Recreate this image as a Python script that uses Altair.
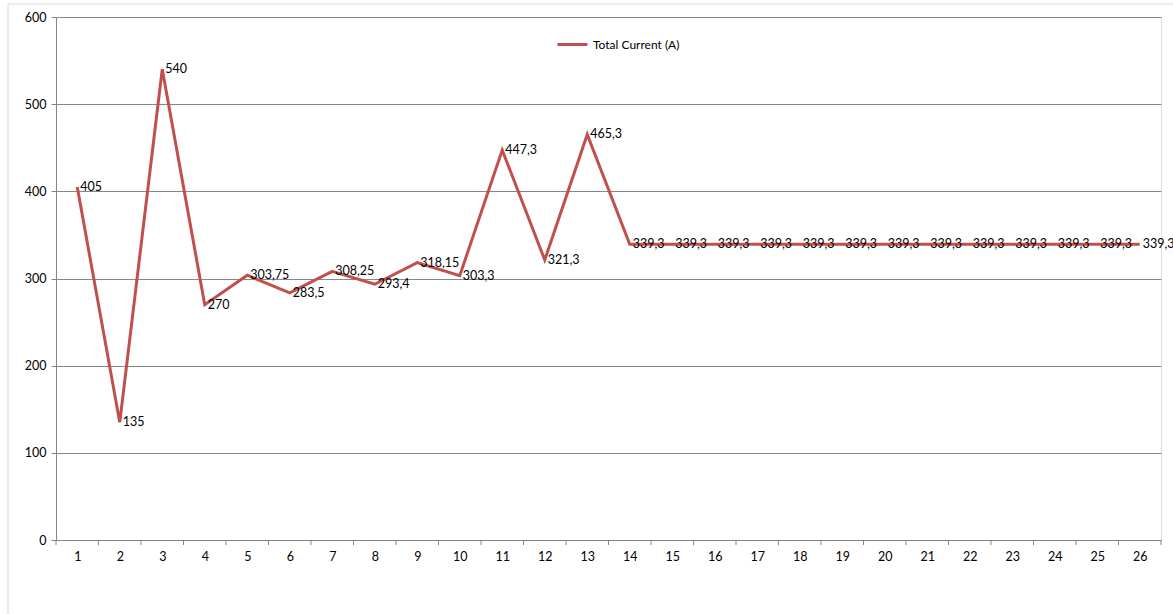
import altair as alt
import pandas as pd

categories = list(range(1, 27))
values = [405, 135, 540, 270, 303.75, 283.5, 308.25, 293.4, 318.15, 303.3,
          447.3, 321.3, 465.3] + [339.3] * 13
labels = ["405", "135", "540", "270", "303,75", "283,5", "308,25", "293,4",
          "318,15", "303,3", "447,3", "321,3", "465,3"] + ["339,3"] * 13
series = ["Total Current (A)"] * 26
boundaries = [i + 0.5 for i in range(0, 27)]

FONT = "Lato"
W, H = 1105, 523
df = pd.DataFrame({"cat": categories, "val": values, "lab": labels, "series": series})
bdf = pd.DataFrame({"b": boundaries})

xs = alt.Scale(domain=[0.5, 26.5], nice=False, zero=False)
ys = alt.Scale(domain=[0, 600], nice=False)

frame = alt.Chart(pd.DataFrame({"k": [0]})).mark_rect(
    fill=None, stroke="#d9d9d9", strokeWidth=1
).encode(
    x=alt.value(-48), x2=alt.value(W + 30), y=alt.value(-13), y2=alt.value(H + 80)
)

line = alt.Chart(df).mark_line(strokeWidth=3).encode(
    x=alt.X("cat:Q", scale=xs, title=None,
            axis=alt.Axis(values=categories, ticks=False, domain=True,
                          domainColor="#868686", grid=False, labelFont=FONT,
                          labelFontSize=12.5, labelColor="#000000", labelPadding=10,
                          labelFlush=False)),
    y=alt.Y("val:Q", scale=ys, title=None,
            axis=alt.Axis(values=[0, 100, 200, 300, 400, 500, 600], tickSize=5,
                          tickColor="#868686", domainColor="#868686",
                          gridColor="#868686", labelFont=FONT, labelFontSize=12.5,
                          labelColor="#000000", labelPadding=5)),
    color=alt.Color("series:N", scale=alt.Scale(range=["#C0504D"]),
                    legend=alt.Legend(orient="none", legendX=500, legendY=11,
                                      title=None, symbolType="stroke",
                                      symbolStrokeWidth=3, symbolSize=900,
                                      labelFont=FONT, labelFontSize=12,
                                      labelColor="#000000", labelOffset=4)),
)

text = alt.Chart(df).mark_text(
    align="left", baseline="middle", dx=3, font=FONT, fontSize=12.5, color="#000000"
).encode(
    x=alt.X("cat:Q", scale=xs), y=alt.Y("val:Q", scale=ys), text="lab:N"
)

ticks = alt.Chart(bdf).mark_rule(color="#868686").encode(
    x=alt.X("b:Q", scale=xs), y=alt.value(H), y2=alt.value(H + 5)
)

chart = alt.layer(frame, line, ticks, text).properties(
    width=W, height=H,
    padding={"left": 56, "top": 17, "right": 12, "bottom": 74},
    autosize=alt.AutoSizeParams(type="none"),
).configure_view(stroke=None).configure(background="white")

chart.save("out.html", embed_options={"renderer": "svg", "actions": False})
